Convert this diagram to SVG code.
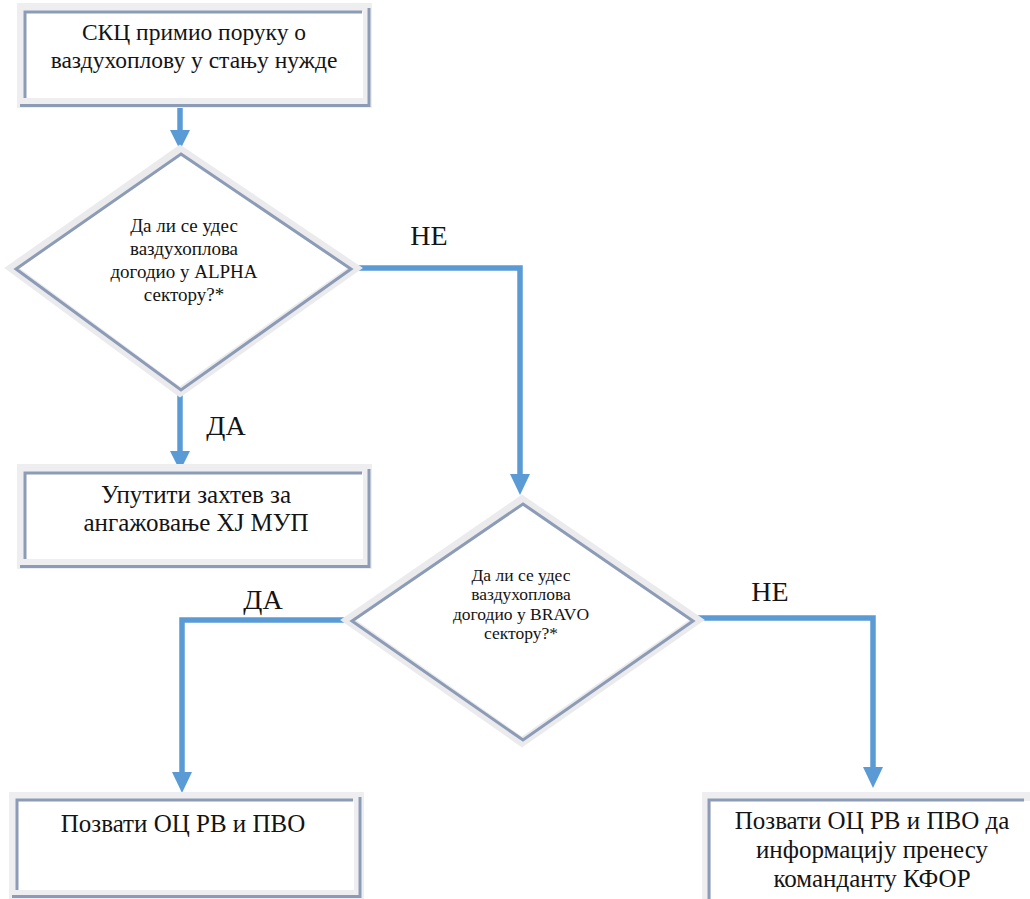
<svg xmlns="http://www.w3.org/2000/svg" width="1030" height="899" viewBox="0 0 1030 899">
<defs>
<style>
.halo{fill:#eeeef1;stroke:none}
.inner{fill:#ffffff;stroke:none}
.edge{fill:none;stroke:#8d9cb6;stroke-width:3}
.dhalo{fill:#ffffff;stroke:#ebebee;stroke-width:9;stroke-linejoin:miter}
.dedge{fill:none;stroke:#8d9cb6;stroke-width:3}
.conn{fill:none;stroke:#5b9bd5;stroke-width:5.5}
.head{fill:#5b9bd5;stroke:none}
text{font-family:'Liberation Serif','Times New Roman',serif;fill:#141414;text-anchor:middle}
.b1{font-size:23.5px}
.b{font-size:25px}
.q1{font-size:19px}
.q2{font-size:17.5px}
.lbl{font-size:28px}
</style>
</defs>

<g id="connectors">
<path class="conn" d="M180,108 V130" />
<path class="head" d="M170,130 L190,130 L180,150 z"/>
<path class="conn" d="M180,394 V452" />
<path class="head" d="M170,451 L190,451 L180,471 z"/>
<path class="conn" d="M355,268 H520 V476" />
<path class="head" d="M510,474 L530,474 L520,495 z"/>
<path class="conn" d="M348,620 H182 V773" />
<path class="head" d="M172,772 L192,772 L182,793 z"/>
<path class="conn" d="M697,618 H873 V768" />
<path class="head" d="M863,767 L883,767 L873,788 z"/>
</g>

<g id="labels">
<text class="lbl" x="429" y="245">НЕ</text>
<text class="lbl" x="226" y="435">ДА</text>
<text class="lbl" x="263" y="609">ДА</text>
<text class="lbl" x="770" y="601">НЕ</text>
</g>

<g id="start">
<rect class="halo" x="17" y="3" width="355" height="105"/>
<rect class="inner" x="26" y="12" width="337" height="86"/>
<path class="edge" d="M25,98 V12 H362"/>
<path class="edge" d="M20,105.5 H369 V8"/>
<text class="b1" x="194" y="40">СКЦ примио поруку о</text>
<text class="b1" x="194" y="68">ваздухоплову у стању нужде</text>
</g>

<g id="decision-alpha">
<polygon class="dhalo" points="180,150 355,268 180,392 12,268"/>
<polygon class="dedge" points="181,154 351,269 181,390 16,269"/>
<text class="q1" x="184" y="232">Да ли се удес</text>
<text class="q1" x="184" y="255">ваздухоплова</text>
<text class="q1" x="184" y="278">догодио у ALPHA</text>
<text class="q1" x="184" y="301">сектору?*</text>
</g>

<g id="request-mup">
<rect class="halo" x="17" y="464" width="355" height="105"/>
<rect class="inner" x="26" y="473" width="337" height="86"/>
<path class="edge" d="M25,559 V473 H362"/>
<path class="edge" d="M20,566.5 H369 V469"/>
<text class="b" x="196" y="503">Упутити захтев за</text>
<text class="b" x="196" y="531">ангажовање ХЈ МУП</text>
</g>

<g id="decision-bravo">
<polygon class="dhalo" points="522,500 697,620 522,742 348,620"/>
<polygon class="dedge" points="523,504 693,621 523,740 352,621"/>
<text class="q2" x="521" y="581">Да ли се удес</text>
<text class="q2" x="521" y="600">ваздухоплова</text>
<text class="q2" x="521" y="620">догодио у BRAVO</text>
<text class="q2" x="521" y="639">сектору?*</text>
</g>

<g id="call-oc">
<rect class="halo" x="9" y="792" width="355" height="107"/>
<rect class="inner" x="18" y="801" width="336" height="89"/>
<path class="edge" d="M17,890 V800 H353"/>
<path class="edge" d="M12,896.5 H360 V797"/>
<text class="b" x="183" y="832">Позвати ОЦ РВ и ПВО</text>
</g>

<g id="call-oc-kfor">
<rect class="halo" x="702" y="792" width="328" height="107"/>
<rect class="inner" x="711" y="801" width="319" height="98"/>
<path class="edge" d="M709,899 V800 H1024"/>
<text class="b" x="872" y="829">Позвати ОЦ РВ и ПВО да</text>
<text class="b" x="872" y="858">информацију пренесу</text>
<text class="b" x="872" y="887">команданту КФОР</text>
</g>
</svg>
